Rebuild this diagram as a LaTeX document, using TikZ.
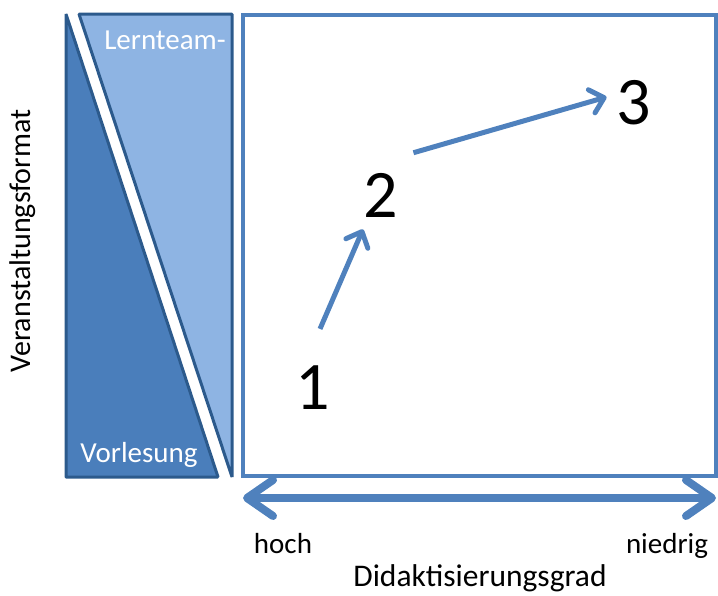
\documentclass[tikz,border=0pt]{standalone}
\usepackage{fontspec}
\setmainfont{Carlito}
\usetikzlibrary{arrows.meta}

\definecolor{frame}{HTML}{4F81BD}
\definecolor{edge}{HTML}{2C5A8C}
\definecolor{dark}{HTML}{4A7EBB}
\definecolor{light}{HTML}{8EB4E3}

\begin{document}
\begin{tikzpicture}[x=1pt,y=-1pt,
 num/.style={font=\fontsize{68}{68}\selectfont,inner sep=0pt},
 lbl/.style={font=\fontsize{29}{29}\selectfont,inner sep=0pt},
 arr/.style={frame,line width=5pt,-{Straight Barb[length=13pt,width=24pt,round]}},
 wedge/.style={draw=edge,line width=3pt,line join=bevel}]

\useasboundingbox (0,0) rectangle (718,595);

% Veranstaltungsformat: Vorlesung -> Lernteam
\draw[wedge,fill=dark] (66,14) -- (66,477) -- (218,477) -- cycle;
\draw[wedge,fill=light] (79,14) -- (232,14) -- (232,477) -- cycle;
\node[lbl,white] (lernteam) at (165,40) {Lernteam-};
\node[lbl,white,anchor=base] (vorlesung) at (139,462) {Vorlesung};
\node[lbl,rotate=90,font=\fontsize{30}{30}\selectfont] (yaxis) at (23,241) {Veranstaltungsformat};

% field
\draw[frame,line width=4pt] (243,15) rectangle (716,476);

% Didaktisierungsgrad
\coordinate (hi) at (243,498);
\coordinate (lo) at (716,498);
\draw[frame,line width=8pt,
 {Straight Barb[length=26pt,width=36pt,round]}-{Straight Barb[length=26pt,width=36pt,round]}]
 (hi) -- (lo);
\node[lbl,anchor=base] (hoch) at (283,553) {hoch};
\node[lbl,anchor=base] (niedrig) at (667,553) {niedrig};
\node[lbl,anchor=base,font=\fontsize{31.5}{31.5}\selectfont] (xaxis) at (480,586) {Didaktisierungsgrad};

% steps
\node[num] (n1) at (313,388) {1};
\node[num] (n2) at (381,195) {2};
\node[num] (n3) at (634,103) {3};
\draw[arr] ([shift={(7,-37)}]n1.north) -- ([shift={(-18,12)}]n2.south);
\draw[arr] ([shift={(15,-20)}]n2.north east) -- ([shift={(-10,-6)}]n3.west);

\end{tikzpicture}
\end{document}
